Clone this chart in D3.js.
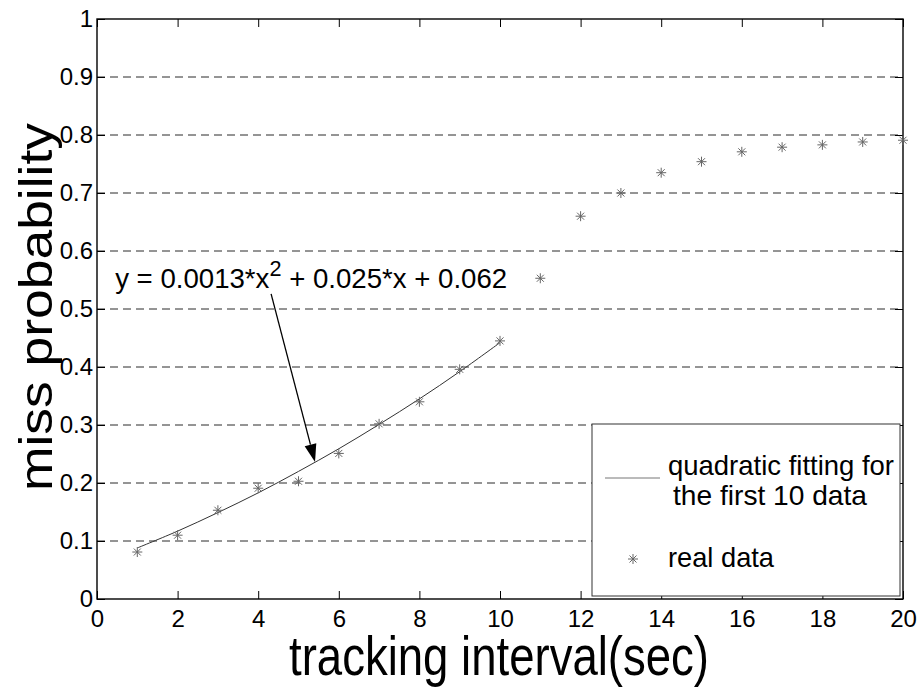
<!DOCTYPE html>
<html>
<head>
<meta charset="utf-8">
<script src="https://cdn.jsdelivr.net/npm/d3@7"></script>
<style>
  body { margin: 0; background: #fff; }
  text { font-family: "Liberation Sans", Arial, Helvetica, sans-serif; fill: #000; }
</style>
</head>
<body>
<div id="chart"></div>
<script>
// tracking interval (sec) and measured miss probability
const intervals = [1, 2, 3, 4, 5, 6, 7, 8, 9, 10, 11, 12, 13, 14, 15, 16, 17, 18, 19, 20];
const missProb = [0.081, 0.110, 0.153, 0.191, 0.203, 0.251, 0.302, 0.340, 0.396, 0.445,
                  0.553, 0.660, 0.700, 0.735, 0.754, 0.771, 0.779, 0.783, 0.788, 0.791];

// quadratic fit over the first 10 points
const fitX = [1, 2, 3, 4, 5, 6, 7, 8, 9, 10];
const fitY = [0.088, 0.117, 0.149, 0.183, 0.220, 0.259, 0.301, 0.345, 0.392, 0.442];

const xTicks = [0, 2, 4, 6, 8, 10, 12, 14, 16, 18, 20];
const yTicks = [0, 0.1, 0.2, 0.3, 0.4, 0.5, 0.6, 0.7, 0.8, 0.9, 1];

// annotation: equation text and arrow (data units)
const eqAnchor = [0.45, 0.536];
const arrowFrom = [4.32, 0.526];
const arrowTo = [5.41, 0.236];

let w = 919;
let h = 690;

let x = d3.scaleLinear().domain([0, 20]).range([97, 903]);
let y = d3.scaleLinear().domain([0, 1]).range([599, 19]);

let svg = d3
  .select("#chart")
  .append("svg")
  .attr("width", w)
  .attr("height", h);

svg.append("rect").attr("width", w).attr("height", h).attr("fill", "#fff");

// dashed horizontal grid
svg
  .append("g")
  .selectAll("line")
  .data(yTicks.filter((d) => d > 0 && d < 1))
  .join("line")
  .attr("x1", x(0))
  .attr("x2", x(20))
  .attr("y1", (d) => y(d))
  .attr("y2", (d) => y(d))
  .attr("stroke", "#2a2a2a")
  .attr("stroke-width", 1)
  .attr("stroke-dasharray", "8,5");

const fmt = (d) => String(d);

function styleAxis(g) {
  g.select(".domain").remove();
  g.selectAll(".tick line").attr("stroke", "#000").attr("stroke-width", 1);
  g.attr("font-size", 24).attr("font-family", '"Liberation Sans", Arial, sans-serif');
}

// bottom / left axes with labels, ticks pointing inward
svg
  .append("g")
  .attr("transform", `translate(0,${y(0)})`)
  .call(d3.axisBottom(x).tickValues(xTicks).tickFormat(fmt).tickSizeInner(-8).tickSizeOuter(0).tickPadding(11))
  .call(styleAxis);

svg
  .append("g")
  .attr("transform", `translate(${x(0)},0)`)
  .call(d3.axisLeft(y).tickValues(yTicks).tickFormat(fmt).tickSizeInner(-8).tickSizeOuter(0).tickPadding(4))
  .call(styleAxis);

// top / right ticks only
svg
  .append("g")
  .attr("transform", `translate(0,${y(1)})`)
  .call(d3.axisTop(x).tickValues(xTicks).tickFormat("").tickSizeInner(-8).tickSizeOuter(0))
  .call(styleAxis);

svg
  .append("g")
  .attr("transform", `translate(${x(20)},0)`)
  .call(d3.axisRight(y).tickValues(yTicks).tickFormat("").tickSizeInner(-8).tickSizeOuter(0))
  .call(styleAxis);

// box
svg
  .append("rect")
  .attr("x", x(0))
  .attr("y", y(1))
  .attr("width", x(20) - x(0))
  .attr("height", y(0) - y(1))
  .attr("fill", "none")
  .attr("stroke", "#000")
  .attr("stroke-width", 1.4);

// fitted curve
let line = d3
  .line()
  .x((d) => x(d[0]))
  .y((d) => y(d[1]))
  .curve(d3.curveCatmullRom);

svg
  .append("path")
  .datum(fitX.map((d, i) => [d, fitY[i]]))
  .attr("d", line)
  .attr("fill", "none")
  .attr("stroke", "#333")
  .attr("stroke-width", 1);

// asterisk markers
const star = "M-5,0H5M0,-5V5M-3.5,-3.5L3.5,3.5M-3.5,3.5L3.5,-3.5";

svg
  .append("g")
  .selectAll("path")
  .data(intervals.map((d, i) => [d, missProb[i]]))
  .join("path")
  .attr("transform", (d) => `translate(${x(d[0])},${y(d[1])})`)
  .attr("d", star)
  .attr("fill", "none")
  .attr("stroke", "#666")
  .attr("stroke-width", 1);

// equation label
let eq = svg
  .append("text")
  .attr("x", x(eqAnchor[0]))
  .attr("y", y(eqAnchor[1]))
  .attr("font-size", 28)
  .attr("textLength", 392)
  .attr("lengthAdjust", "spacingAndGlyphs");
eq.append("tspan").text("y = 0.0013*x");
eq.append("tspan").attr("font-size", 22).attr("dy", -12).text("2");
eq.append("tspan").attr("dy", 12).text(" + 0.025*x + 0.062");

// arrow
let ax0 = x(arrowFrom[0]), ay0 = y(arrowFrom[1]);
let ax1 = x(arrowTo[0]), ay1 = y(arrowTo[1]);
let ang = Math.atan2(ay1 - ay0, ax1 - ax0);
let headLen = 18, headHalf = 6;
let bx = ax1 - headLen * Math.cos(ang), by = ay1 - headLen * Math.sin(ang);

svg
  .append("line")
  .attr("x1", ax0)
  .attr("y1", ay0)
  .attr("x2", bx)
  .attr("y2", by)
  .attr("stroke", "#000")
  .attr("stroke-width", 1.3);

svg
  .append("path")
  .attr("d", `M${ax1},${ay1}L${bx + headHalf * Math.sin(ang)},${by - headHalf * Math.cos(ang)}L${bx - headHalf * Math.sin(ang)},${by + headHalf * Math.cos(ang)}Z`)
  .attr("fill", "#000");

// legend
let legend = svg.append("g").attr("transform", "translate(592,424)");

legend
  .append("rect")
  .attr("width", 308)
  .attr("height", 172)
  .attr("fill", "#fff")
  .attr("stroke", "#333")
  .attr("stroke-width", 1);

legend
  .append("line")
  .attr("x1", 13)
  .attr("x2", 68)
  .attr("y1", 54)
  .attr("y2", 54)
  .attr("stroke", "#777")
  .attr("stroke-width", 1);

legend
  .append("text")
  .attr("x", 76)
  .attr("y", 51)
  .attr("font-size", 28)
  .attr("textLength", 226)
  .attr("lengthAdjust", "spacingAndGlyphs")
  .text("quadratic fitting for");

legend
  .append("text")
  .attr("x", 81)
  .attr("y", 81)
  .attr("font-size", 28)
  .attr("textLength", 194)
  .attr("lengthAdjust", "spacingAndGlyphs")
  .text("the first 10 data");

legend
  .append("path")
  .attr("transform", "translate(41,135)")
  .attr("d", star)
  .attr("fill", "none")
  .attr("stroke", "#666")
  .attr("stroke-width", 1);

legend
  .append("text")
  .attr("x", 76)
  .attr("y", 143)
  .attr("font-size", 28)
  .attr("textLength", 106)
  .attr("lengthAdjust", "spacingAndGlyphs")
  .text("real data");

// axis titles
svg
  .append("text")
  .attr("x", 289)
  .attr("y", 675)
  .attr("font-size", 56)
  .attr("textLength", 420)
  .attr("lengthAdjust", "spacingAndGlyphs")
  .text("tracking interval(sec)");

svg
  .append("g")
  .attr("transform", "translate(52,307) scale(0.82,1) rotate(-90)")
  .append("text")
  .attr("text-anchor", "middle")
  .attr("font-size", 57)
  .attr("textLength", 368)
  .attr("lengthAdjust", "spacingAndGlyphs")
  .text("miss probability");
</script>
</body>
</html>
